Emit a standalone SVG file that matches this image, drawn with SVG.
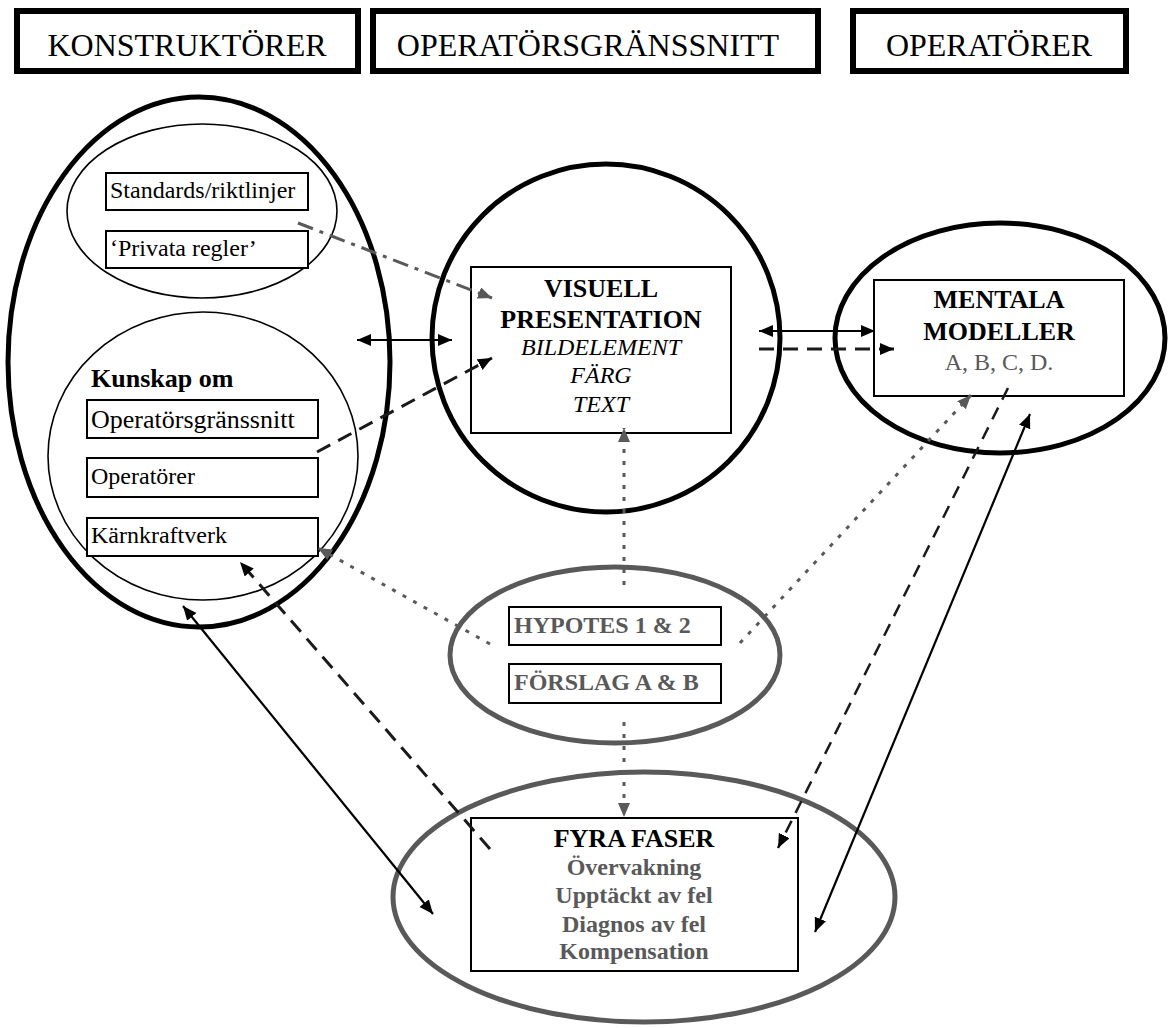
<svg xmlns="http://www.w3.org/2000/svg" width="1169" height="1028" viewBox="0 0 1169 1028">
<style>
text{font-family:"Liberation Serif","Times New Roman",serif;fill:#000}
.hdr{font-size:32px}
.b{font-weight:bold}
.i{font-style:italic}
.g{fill:#595959}
.thick{fill:none;stroke:#000;stroke-width:5}
.gthick{fill:none;stroke:#595959;stroke-width:5}
.thin{fill:none;stroke:#000;stroke-width:1.6}
.box{fill:#fff;stroke:#000;stroke-width:2}
.hbox{fill:#fff;stroke:#000;stroke-width:6}
.solid{fill:none;stroke:#000;stroke-width:2.2}
.dash{fill:none;stroke:#1a1a1a;stroke-width:3;stroke-dasharray:15 9}
.dot{fill:none;stroke:#595959;stroke-width:3;stroke-dasharray:4 8}
.dashdot{fill:none;stroke:#595959;stroke-width:3;stroke-dasharray:16 7 4 7}
</style>
<defs>
<marker id="ab" markerUnits="userSpaceOnUse" markerWidth="16" markerHeight="14" refX="14" refY="6" orient="auto-start-reverse"><path d="M0,0 L14,6 L0,12 z" fill="#000"/></marker>
<marker id="ag" markerUnits="userSpaceOnUse" markerWidth="16" markerHeight="14" refX="14" refY="6" orient="auto-start-reverse"><path d="M0,0 L14,6 L0,12 z" fill="#595959"/></marker>
</defs>

<g id="hdr-konstruktorer">
<rect class="hbox" x="17" y="11" width="341" height="60"/>
<text class="hdr" x="187" y="56" text-anchor="middle">KONSTRUKTÖRER</text>
</g>
<g id="hdr-operatorsgranssnitt">
<rect class="hbox" x="373" y="11" width="445" height="60"/>
<text class="hdr" x="588" y="56" text-anchor="middle">OPERATÖRSGRÄNSSNITT</text>
</g>
<g id="hdr-operatorer">
<rect class="hbox" x="853" y="11" width="273" height="60"/>
<text class="hdr" x="989" y="56" text-anchor="middle">OPERATÖRER</text>
</g>

<g id="konstruktorer">
<ellipse class="thick" cx="199" cy="362" rx="191" ry="265"/>
<g id="regler">
<ellipse class="thin" cx="202" cy="211" rx="135" ry="87"/>
<rect class="box" x="106" y="173" width="202" height="37"/>
<text x="110" y="198" font-size="24">Standards/riktlinjer</text>
<rect class="box" x="106" y="231" width="202" height="37"/>
<text x="110" y="256" font-size="24">‘Privata regler’</text>
</g>
<g id="kunskap">
<ellipse class="thin" cx="203" cy="456" rx="155" ry="144"/>
<text class="b" x="91" y="387" font-size="26">Kunskap om</text>
<rect class="box" x="87" y="400" width="231" height="38"/>
<text x="91" y="428" font-size="26">Operatörsgränssnitt</text>
<rect class="box" x="87" y="458" width="231" height="39"/>
<text x="91" y="484" font-size="24">Operatörer</text>
<rect class="box" x="87" y="518" width="231" height="38"/>
<text x="91" y="543" font-size="24">Kärnkraftverk</text>
</g>
</g>

<g id="visuell">
<ellipse class="thick" cx="606" cy="338" rx="174" ry="174"/>
<rect class="box" x="471" y="267" width="260" height="166"/>
<text class="b" x="601" y="297" font-size="26" text-anchor="middle">VISUELL</text>
<text class="b" x="601" y="328" font-size="26" text-anchor="middle">PRESENTATION</text>
<text class="i" x="601" y="355" font-size="24" text-anchor="middle">BILDELEMENT</text>
<text class="i" x="601" y="383" font-size="24" text-anchor="middle">FÄRG</text>
<text class="i" x="601" y="412" font-size="24" text-anchor="middle">TEXT</text>
</g>

<g id="mentala">
<ellipse class="thick" cx="1000" cy="338" rx="165" ry="115"/>
<rect class="box" x="874" y="280" width="250" height="116"/>
<text class="b" x="999" y="308" font-size="26" text-anchor="middle">MENTALA</text>
<text class="b" x="999" y="340" font-size="26" text-anchor="middle">MODELLER</text>
<text class="g" x="999" y="370" font-size="24" text-anchor="middle">A, B, C, D.</text>
</g>

<g id="hypotes">
<ellipse class="gthick" cx="615" cy="655" rx="165" ry="88"/>
<rect class="box" x="509" y="607" width="212" height="38"/>
<text class="b g" x="514" y="633" font-size="24">HYPOTES 1 &amp; 2</text>
<rect class="box" x="509" y="664" width="212" height="39"/>
<text class="b g" x="514" y="690" font-size="24">FÖRSLAG A &amp; B</text>
</g>

<g id="faser">
<ellipse class="gthick" cx="644" cy="897" rx="251" ry="125"/>
<rect class="box" x="471" y="818" width="327" height="153"/>
<text class="b" x="634" y="847" font-size="26" text-anchor="middle">FYRA FASER</text>
<text class="b g" x="634" y="875" font-size="24" text-anchor="middle">Övervakning</text>
<text class="b g" x="634" y="903" font-size="24" text-anchor="middle">Upptäckt av fel</text>
<text class="b g" x="634" y="932" font-size="24" text-anchor="middle">Diagnos av fel</text>
<text class="b g" x="634" y="959" font-size="24" text-anchor="middle">Kompensation</text>
</g>

<g id="connectors">
<path class="solid" d="M357,340 L452,340" marker-start="url(#ab)" marker-end="url(#ab)"/>
<path class="solid" d="M759,331 L875,331" marker-start="url(#ab)" marker-end="url(#ab)"/>
<path class="dash" d="M759,349 L894,349" marker-end="url(#ab)"/>
<path class="dashdot" d="M298,223 L492,298" marker-end="url(#ag)"/>
<path class="dash" d="M317,452 L492,358" marker-end="url(#ab)"/>
<path class="dot" d="M624,585 L624,428" marker-end="url(#ag)"/>
<path class="dot" d="M490,644 L318,548" marker-end="url(#ag)"/>
<path class="dot" d="M740,643 L971,395" marker-end="url(#ag)"/>
<path class="dot" d="M624,722 L624,817" marker-end="url(#ag)"/>
<path class="dash" d="M490,849 L240,562" marker-end="url(#ab)"/>
<path class="solid" d="M183,606 L433,914" marker-start="url(#ab)" marker-end="url(#ab)"/>
<path class="solid" d="M1030,414 L815,932" marker-start="url(#ab)" marker-end="url(#ab)"/>
<path class="dash" style="stroke-width:2.5;stroke-dasharray:13 9" d="M1008,388 L778,848" marker-end="url(#ab)"/>
</g>
</svg>
